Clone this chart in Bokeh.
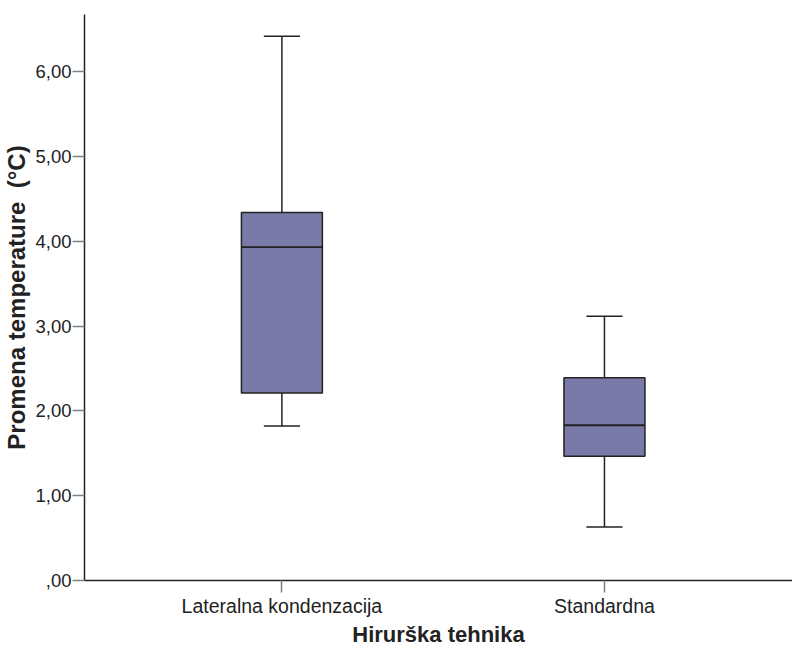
from bokeh.plotting import figure
from bokeh.models import Range1d, FixedTicker
from bokeh.embed import file_html
from bokeh.resources import INLINE

# ---- data ----
categories = ["Lateralna kondenzacija", "Standardna"]
whisker_low = [1.82, 0.63]
q1 = [2.21, 1.466]
median = [3.93, 1.83]
q3 = [4.337, 2.39]
whisker_high = [6.417, 3.115]
y_ticks = [0, 1, 2, 3, 4, 5, 6]
y_tick_labels = [",00", "1,00", "2,00", "3,00", "4,00", "5,00", "6,00"]
x_title = "Hirurška tehnika"
y_title = "Promena temperature\u00a0\u00a0(°C)"

xs = list(range(1, len(categories) + 1))
box_w = 0.251
cap_w = 0.112

FONT = "Liberation Sans"
FILL = "#7a7aa8"
LINE = "#222222"

p = figure(frame_width=708, frame_height=566, output_backend="svg", toolbar_location=None,
           x_range=Range1d(0.388, 2.583), y_range=Range1d(0, 6.672),
           min_border_left=77, min_border_right=0, min_border_top=14, min_border_bottom=0)
p.outline_line_color = None
p.xgrid.visible = False
p.ygrid.visible = False
p.background_fill_color = "white"
p.border_fill_color = "white"

# whiskers
p.segment(x0=xs, y0=q3, x1=xs, y1=whisker_high, line_color=LINE, line_width=1.5)
p.segment(x0=xs, y0=whisker_low, x1=xs, y1=q1, line_color=LINE, line_width=1.5)
# caps
p.segment(x0=[x - cap_w / 2 for x in xs], y0=whisker_high,
          x1=[x + cap_w / 2 for x in xs], y1=whisker_high, line_color=LINE, line_width=1.5)
p.segment(x0=[x - cap_w / 2 for x in xs], y0=whisker_low,
          x1=[x + cap_w / 2 for x in xs], y1=whisker_low, line_color=LINE, line_width=1.5)
# boxes
p.vbar(x=xs, width=box_w, bottom=q1, top=q3, fill_color=FILL, line_color=LINE, line_width=1.5)
# medians
p.segment(x0=[x - box_w / 2 for x in xs], y0=median,
          x1=[x + box_w / 2 for x in xs], y1=median, line_color=LINE, line_width=1.8)

# axes
for ax in (p.xaxis[0], p.yaxis[0]):
    ax.axis_line_color = LINE
    ax.axis_line_width = 1.5
    ax.major_tick_line_color = "#808080"
    ax.major_tick_line_width = 1.5
    ax.major_tick_out = 12
    ax.major_tick_in = 0
    ax.minor_tick_line_color = None
    ax.major_label_text_font = FONT
    ax.major_label_text_color = "#222222"
    ax.axis_label_text_font = FONT
    ax.axis_label_text_font_style = "bold"
    ax.axis_label_text_color = "#222222"

p.xaxis.ticker = FixedTicker(ticks=xs)
p.xaxis.major_label_overrides = {x: c for x, c in zip(xs, categories)}
p.xaxis.major_label_text_font_size = "19.5px"
p.xaxis.major_label_standoff = 2
p.xaxis.axis_label = x_title
p.xaxis.axis_label_text_font_size = "22px"
p.xaxis.axis_label_standoff = 2

p.yaxis.ticker = FixedTicker(ticks=y_ticks)
p.yaxis.major_label_overrides = {t: l for t, l in zip(y_ticks, y_tick_labels)}
p.yaxis.major_label_text_font_size = "18.5px"
p.yaxis.major_label_standoff = 1
p.yaxis.axis_label = y_title
p.yaxis.axis_label_text_font_size = "24px"
p.yaxis.axis_label_standoff = 2

open("out.html", "w").write(file_html(p, INLINE))
